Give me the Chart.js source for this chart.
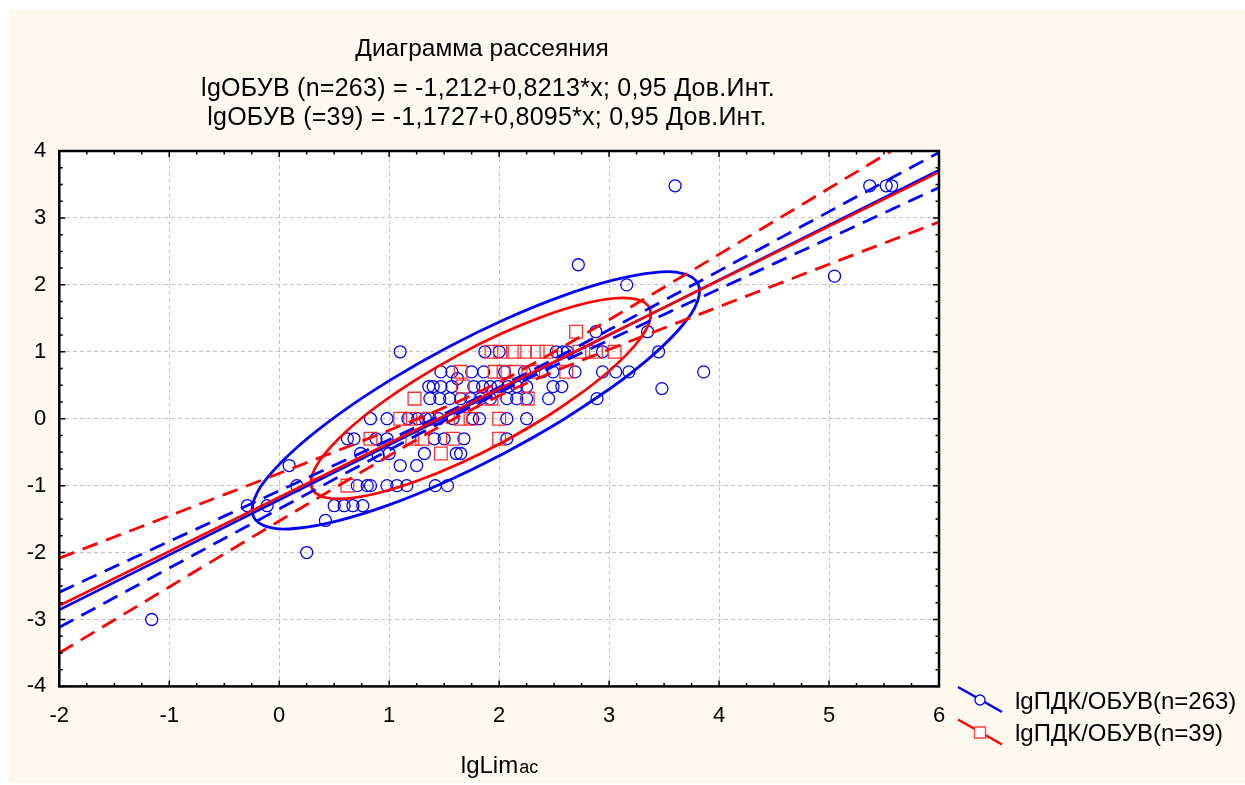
<!DOCTYPE html>
<html>
<head>
<meta charset="utf-8">
<title>Диаграмма рассеяния</title>
<script src="https://cdn.jsdelivr.net/npm/chart.js@4.4.0/dist/chart.umd.min.js"></script>
<style>
  html, body { margin: 0; padding: 0; background: #fff; }
  #wrap { width: 1245px; height: 785px; }
</style>
</head>
<body>
<div id="wrap"><canvas id="myChart" width="1245" height="785"></canvas></div>
<script>
let titleLines = [
    'Диаграмма рассеяния',
    'lgОБУВ (n=263) = -1,212+0,8213*x; 0,95 Дов.Инт.',
    'lgОБУВ (=39) = -1,1727+0,8095*x; 0,95 Дов.Инт.'
];
let legendLabels = ['lgПДК/ОБУВ(n=263)', 'lgПДК/ОБУВ(n=39)'];
let xTitle = 'lgLim';
let xTitleSub = 'ac';

// blue circles, lgПДК/ОБУВ(n=263)
let blueX = [-1.16, 0.25, -0.29, -0.11, 0.09, 0.16, 0.42,
    0.5, 0.59, 0.67, 0.76,
    0.71, 0.8, 0.83, 0.98, 1.07, 1.16, 1.42, 1.53,
    1.1, 1.25,
    0.74, 0.9, 1.0, 1.32, 1.61, 1.65,
    0.62, 0.68, 0.88, 0.98, 1.41, 1.5, 1.68, 2.07,
    0.83, 0.98, 1.17, 1.26, 1.33, 1.37, 1.45, 1.58, 1.76, 1.82, 2.07, 2.25,
    1.37, 1.46, 1.55, 1.65, 1.74, 1.83, 1.92, 2.07, 2.16, 2.25, 2.45, 2.89,
    1.36, 1.4, 1.47, 1.57, 1.77, 1.85, 1.92, 1.99, 2.08, 2.16, 2.25, 2.49, 2.57, 3.48,
    1.62,
    1.47, 1.57, 1.75, 1.86, 2.05, 2.23, 2.39, 2.49, 2.69, 2.94, 3.06, 3.18, 3.86,
    1.1, 1.87, 2.0, 2.52, 2.58, 2.62, 2.94, 3.45,
    2.88, 3.35,
    2.72, 3.16, 5.05,
    3.6, 5.37, 5.52, 5.57];
let blueY = [-3.0, -2.0, -1.3, -1.3, -0.7, -1.0, -1.52,
    -1.3, -1.3, -1.3, -1.3,
    -1.0, -1.0, -1.0, -1.0, -1.0, -1.0, -1.0, -1.0,
    -0.7, -0.7,
    -0.52, -0.55, -0.52, -0.52, -0.52, -0.52,
    -0.3, -0.3, -0.3, -0.3, -0.3, -0.3, -0.3, -0.3,
    0, 0, 0, 0, 0, 0, 0, 0, 0, 0, 0, 0,
    0.3, 0.3, 0.3, 0.3, 0.3, 0.3, 0.3, 0.3, 0.3, 0.3, 0.3, 0.3,
    0.48, 0.48, 0.48, 0.48, 0.48, 0.48, 0.48, 0.48, 0.48, 0.48, 0.48, 0.48, 0.48, 0.45,
    0.6,
    0.7, 0.7, 0.7, 0.7, 0.7, 0.7, 0.7, 0.7, 0.7, 0.7, 0.7, 0.7, 0.7,
    1.0, 1.0, 1.0, 1.0, 1.0, 1.0, 1.0, 1.0,
    1.3, 1.3,
    2.3, 2.0, 2.13,
    3.48, 3.48, 3.48, 3.48];

// red squares, lgПДК/ОБУВ(n=39)
let redX = [1.93, 2.01, 2.14, 2.23, 2.35, 2.43, 2.73, 2.88, 3.05,
    2.7,
    1.65, 1.96, 2.04, 2.15, 2.31, 2.61,
    1.67,
    1.23, 1.93, 2.26,
    1.1, 1.19, 1.36, 1.65, 1.74, 2.0,
    0.83, 1.21, 1.3, 1.58, 2.0,
    1.47,
    0.62];
let redY = [1.0, 1.0, 1.0, 1.0, 1.0, 1.0, 1.0, 1.0, 1.0,
    1.3,
    0.7, 0.7, 0.7, 0.7, 0.7, 0.7,
    0.48,
    0.3, 0.3, 0.3,
    0, 0, 0, 0, 0, 0,
    -0.3, -0.3, -0.3, -0.3, -0.3,
    -0.52,
    -1.0];

// regression lines (ends at x = -2 and x = 6)
let regX = [-2, 6];
let blueReg = [-2.855, 3.716];
let redReg = [-2.792, 3.684];

// 0,95 confidence bands, read every 0.5
let bandX = [-2, -1.5, -1, -0.5, 0, 0.5, 1, 1.5, 2, 2.5, 3, 3.5, 4, 4.5, 5, 5.5, 6];
let blueUpper = [-2.592, -2.213, -1.834, -1.456, -1.076, -0.696, -0.315, 0.072, 0.471, 0.893, 1.328, 1.768, 2.209, 2.651, 3.094, 3.536, 3.979];
let blueLower = [-3.118, -2.675, -2.232, -1.790, -1.348, -0.906, -0.467, -0.032, 0.391, 0.789, 1.176, 1.558, 1.937, 2.317, 2.696, 3.074, 3.453];
let redUpper = [-2.083, -1.767, -1.451, -1.134, -0.817, -0.497, -0.173, 0.165, 0.548, 0.998, 1.478, 1.965, 2.456, 2.949, 3.442, 3.935, 4.429];
let redLower = [-3.501, -3.007, -2.514, -2.020, -1.529, -1.039, -0.553, -0.081, 0.344, 0.704, 1.034, 1.355, 1.674, 1.991, 2.308, 2.623, 2.939];

// ellipses, points read round the outline
let blueEllX = [3.807, 3.804, 3.664, 3.395, 3.017, 2.556, 2.042, 1.511, 0.999, 0.540, 0.167, -0.096,
    -0.231, -0.228, -0.088, 0.181, 0.559, 1.020, 1.534, 2.065, 2.578, 3.036, 3.410, 3.672];
let blueEllY = [2.021, 1.756, 1.389, 0.947, 0.459, -0.041, -0.521, -0.946, -1.288, -1.523, -1.637, -1.620,
    -1.474, -1.209, -0.843, -0.400, 0.088, 0.588, 1.068, 1.493, 1.835, 2.070, 2.184, 2.167];
let redEllX = [3.365, 3.367, 3.265, 3.065, 2.782, 2.434, 2.045, 1.641, 1.251, 0.900, 0.613, 0.409,
    0.303, 0.300, 0.402, 0.602, 0.885, 1.234, 1.623, 2.026, 2.416, 2.767, 3.054, 3.258];
let redEllY = [1.660, 1.448, 1.157, 0.808, 0.425, 0.033, -0.340, -0.669, -0.932, -1.111, -1.194, -1.174,
    -1.054, -0.841, -0.550, -0.201, 0.182, 0.574, 0.947, 1.276, 1.539, 1.718, 1.800, 1.781];

const BLUE = '#0000ff';
const RED = '#ff0000';
const FONT = '"Liberation Sans", Arial, sans-serif';

function toPoints(xs, ys) {
    return xs.map((x, i) => ({ x: x, y: ys[i] }));
}

// closed ring: start a bit before index 5 and run once round plus one
function ring(xs, ys) {
    let pts = [];
    let n = xs.length;
    for (let i = 4; i <= 4 + n + 2; i++) {
        pts.push({ x: xs[i % n], y: ys[i % n] });
    }
    return pts;
}

const paperPlugin = {
    id: 'paper',
    beforeDraw(chart) {
        let ctx = chart.ctx;
        let a = chart.chartArea;
        ctx.save();
        ctx.fillStyle = '#ffffff';
        ctx.fillRect(0, 0, chart.width, chart.height);
        ctx.fillStyle = '#fdf9ee';
        ctx.fillRect(9, 10, chart.width - 9, chart.height - 12);
        ctx.fillStyle = '#ffffff';
        ctx.fillRect(a.left, a.top, a.right - a.left, a.bottom - a.top);
        ctx.restore();
    },
    afterDraw(chart) {
        let ctx = chart.ctx;
        let a = chart.chartArea;
        let sx = chart.scales.x;
        let sy = chart.scales.y;
        ctx.save();

        // frame with inward ticks
        ctx.strokeStyle = '#000';
        ctx.lineWidth = 1.5;
        ctx.beginPath();
        for (let k = 0; k <= 32; k++) {
            let v = -2 + k * 0.25;
            let p = sx.getPixelForValue(v);
            let len = k % 4 === 0 ? 6 : 3.5;
            ctx.moveTo(p, a.bottom); ctx.lineTo(p, a.bottom - len);
            ctx.moveTo(p, a.top); ctx.lineTo(p, a.top + len);
        }
        for (let k = 0; k <= 32; k++) {
            let v = -4 + k * 0.25;
            let p = sy.getPixelForValue(v);
            let len = k % 4 === 0 ? 6 : 3.5;
            ctx.moveTo(a.left, p); ctx.lineTo(a.left + len, p);
            ctx.moveTo(a.right, p); ctx.lineTo(a.right - len, p);
        }
        ctx.stroke();
        ctx.lineWidth = 2.5;
        ctx.strokeRect(a.left, a.top, a.right - a.left, a.bottom - a.top);

        // title
        ctx.fillStyle = '#000';
        ctx.textAlign = 'center';
        ctx.textBaseline = 'alphabetic';
        ctx.font = '24.5px ' + FONT;
        ctx.fillText(titleLines[0], 482, 56);
        ctx.font = '25px ' + FONT;
        ctx.letterSpacing = '0.25px';
        ctx.fillText(titleLines[1], 488, 96);
        ctx.fillText(titleLines[2], 487, 125);
        ctx.letterSpacing = '0px';

        // x axis title with small "ac"
        ctx.textAlign = 'left';
        ctx.font = '24px ' + FONT;
        let w1 = ctx.measureText(xTitle).width;
        ctx.font = '18px ' + FONT;
        let w2 = ctx.measureText(xTitleSub).width;
        let x0 = 499 - (w1 + w2) / 2;
        ctx.font = '24px ' + FONT;
        ctx.fillText(xTitle, x0, 773);
        ctx.font = '18px ' + FONT;
        ctx.fillText(xTitleSub, x0 + w1 + 1, 773);

        // legend
        let rows = [
            { color: BLUE, y: 700, shape: 'circle' },
            { color: RED, y: 732.5, shape: 'rect' }
        ];
        rows.forEach((r, i) => {
            ctx.strokeStyle = r.color;
            ctx.lineWidth = 2.5;
            ctx.beginPath();
            ctx.moveTo(958, r.y - 13);
            ctx.lineTo(1002, r.y + 12);
            ctx.stroke();
            ctx.lineWidth = 1.3;
            ctx.fillStyle = '#fff';
            ctx.beginPath();
            if (r.shape === 'circle') {
                ctx.arc(980, r.y, 5, 0, Math.PI * 2);
                ctx.strokeStyle = BLUE;
            } else {
                ctx.rect(974.5, r.y - 5.5, 11, 11);
                ctx.strokeStyle = '#ff4040';
            }
            ctx.fill();
            ctx.stroke();
            ctx.fillStyle = '#000';
            ctx.font = '24px ' + FONT;
            ctx.fillText(legendLabels[i], 1015, r.y + 8.5);
        });
        ctx.restore();
    }
};

const lineStyle = (color, width, dash) => ({
    showLine: true,
    borderColor: color,
    backgroundColor: color,
    borderWidth: width,
    borderDash: dash,
    pointRadius: 0,
    pointHoverRadius: 0,
    fill: false
});

const config = {
    type: 'scatter',
    data: {
        datasets: [
            Object.assign({ label: 'red reg', data: toPoints(regX, redReg), order: 1 }, lineStyle(RED, 2.5, [])),
            Object.assign({ label: 'blue reg', data: toPoints(regX, blueReg), order: 2 }, lineStyle(BLUE, 2.5, [])),
            Object.assign({ label: 'red up', data: toPoints(bandX, redUpper), order: 3, cubicInterpolationMode: 'monotone' }, lineStyle(RED, 2.8, [16, 9])),
            Object.assign({ label: 'red lo', data: toPoints(bandX, redLower), order: 3, cubicInterpolationMode: 'monotone' }, lineStyle(RED, 2.8, [16, 9])),
            Object.assign({ label: 'blue up', data: toPoints(bandX, blueUpper), order: 4, cubicInterpolationMode: 'monotone' }, lineStyle(BLUE, 2.8, [16, 9])),
            Object.assign({ label: 'blue lo', data: toPoints(bandX, blueLower), order: 4, cubicInterpolationMode: 'monotone' }, lineStyle(BLUE, 2.8, [16, 9])),
            Object.assign({ label: 'red ell', data: ring(redEllX, redEllY), order: 5, tension: 0.4 }, lineStyle(RED, 2.7, [])),
            Object.assign({ label: 'blue ell', data: ring(blueEllX, blueEllY), order: 6, tension: 0.4 }, lineStyle(BLUE, 2.8, [])),
            {
                label: legendLabels[1],
                data: toPoints(redX, redY),
                order: 7,
                pointStyle: 'rect',
                pointRadius: 9,
                pointBorderWidth: 1.3,
                borderColor: '#ff3030',
                backgroundColor: 'rgba(0,0,0,0)'
            },
            {
                label: legendLabels[0],
                data: toPoints(blueX, blueY),
                order: 8,
                pointStyle: 'circle',
                pointRadius: 6,
                pointBorderWidth: 1.3,
                borderColor: BLUE,
                backgroundColor: 'rgba(0,0,0,0)'
            }
        ]
    },
    options: {
        responsive: false,
        animation: false,
        devicePixelRatio: 1,
        layout: { padding: { top: 151, right: 306, left: 0, bottom: 0 } },
        plugins: {
            legend: { display: false },
            title: { display: false },
            tooltip: { enabled: false }
        },
        scales: {
            x: {
                type: 'linear',
                min: -2,
                max: 6,
                afterFit: (scale) => { scale.height = 98.6; },
                ticks: { stepSize: 1, color: '#000', padding: 16, font: { family: FONT, size: 22 } },
                grid: { color: '#c4c4c4', lineWidth: 1, drawTicks: false },
                border: { display: false, dash: [4, 3] }
            },
            y: {
                type: 'linear',
                min: -4,
                max: 4,
                afterFit: (scale) => { scale.width = 59.3; },
                ticks: { stepSize: 1, color: '#000', padding: 13, font: { family: FONT, size: 22 } },
                grid: { color: '#c4c4c4', lineWidth: 1, drawTicks: false },
                border: { display: false, dash: [4, 3] }
            }
        }
    },
    plugins: [paperPlugin]
};

let myChart = new Chart(document.getElementById('myChart'), config);
</script>
</body>
</html>
